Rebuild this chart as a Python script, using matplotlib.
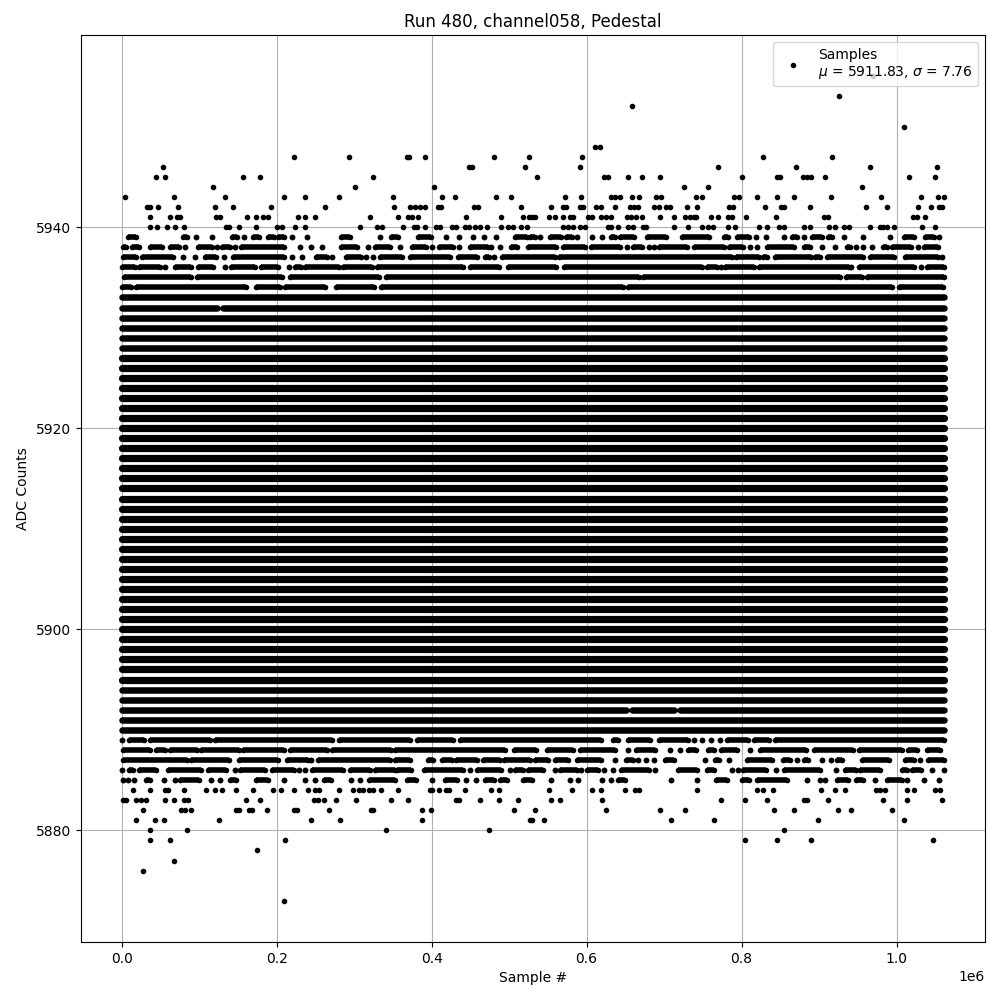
import numpy as np
import matplotlib
matplotlib.use("Agg")
import matplotlib.pyplot as plt

# sample numbers are in thousands
# isolated samples per ADC level
singles = {
    5873: [210],
    5876: [28],
    5877: [68],
    5878: [175],
    5879: [37, 62, 211, 804, 846, 890, 1047],
    5880: [36, 85, 341, 474, 855],
    5881: [19, 43, 55, 126, 245, 282, 388, 527, 530, 545, 709, 765, 899, 1010],
    5882: [27, 77, 82, 89, 148, 152, 164, 168, 188, 223, 226, 268, 322, 325, 387, 399, 506,
           534, 625, 695, 727, 842, 867, 925, 941, 994],
    5883: [2, 6, 19, 25, 32, 56, 68, 81, 86, 160, 179, 248, 254, 261, 277, 302, 348, 369, 431, 435,
           462, 487, 511, 554, 566, 620, 773, 805, 833, 881, 885, 911, 983, 1014, 1059],
    5884: [15, 37, 56, 60, 80, 109, 121, 129, 148, 169, 195, 206, 222, 240, 250, 255, 281, 298,
           306, 312, 319, 325, 335, 356, 398, 401, 410, 418, 423, 443, 476, 487,
           552, 581, 607, 619, 650, 663, 667, 743, 820, 827, 840, 902, 921, 933, 973, 978, 985,
           1013, 1023, 1049, 1056],
    5940: [36, 46, 58, 69, 80, 135, 139, 152, 173, 200, 207, 224, 237, 308, 330, 336, 363, 377, 381,
           391, 406, 411, 426, 431, 443, 448, 456, 463, 471, 489, 498, 505, 515, 523,
           570, 576, 583, 591, 598, 627, 632, 640, 653, 660, 673, 677, 713, 731, 749, 757, 763,
           782, 792, 822, 833, 848, 855, 881, 888, 913, 920, 932, 938, 966, 979, 983, 988, 996,
           1033, 1050],
    5941: [36, 62, 71, 75, 122, 127, 162, 173, 183, 189, 227, 236, 249, 321, 357, 370, 375, 382,
           444, 490, 518, 526, 529, 533, 552, 559, 570, 578, 583, 602, 607, 619, 625, 632,
           652, 657, 664, 671, 695, 713, 727, 733, 738, 741, 761, 769, 782, 787, 806, 845,
           906, 911, 1021, 1026, 1037],
    5942: [33, 37, 47, 73, 120, 144, 193, 262, 352, 372, 379, 385, 391, 408, 412, 455, 460, 515,
           554, 570, 573, 591, 595, 612, 619, 636, 656, 661, 666, 687, 693, 702, 708, 729, 742,
           784, 789, 830, 851, 855, 888, 961, 988, 1027, 1044, 1055, 1058],
    5943: [5, 68, 134, 210, 236, 280, 350, 413, 430, 483, 502, 572, 593, 631, 637, 643, 658, 667,
           690, 696, 741, 749, 790, 796, 820, 846, 868, 915, 980, 1031, 1054, 1061],
    5944: [118, 301, 403, 726, 757, 955],
    5945: [45, 56, 156, 179, 324, 536, 622, 628, 653, 672, 695, 801, 846, 850, 879, 885, 889, 908,
           1016, 1050],
    5946: [54, 448, 452, 520, 592, 769, 870, 966, 1052],
    5947: [222, 293, 368, 371, 392, 481, 526, 594, 827, 917],
    5948: [611, 617],
    5950: [1009],
    5952: [659],
    5953: [926],
    5955: [969],
}

# levels where the samples merge into runs: (first, last)
runs_5885 = [(2, 2), (8, 8), (16, 16), (31, 37), (55, 55), (69, 69), (75, 100), (115, 115), (127, 127),
             (140, 147), (174, 189), (209, 209), (237, 237), (249, 249), (261, 270), (296, 296), (307, 307),
             (319, 353), (368, 380), (400, 400), (417, 433), (444, 444), (457, 457), (469, 480), (488, 497),
             (518, 530), (554, 554), (579, 579), (589, 589), (620, 620), (631, 631), (640, 650), (709, 709),
             (742, 742), (767, 781), (800, 809), (820, 859), (884, 884), (901, 901), (908, 908), (923, 937),
             (947, 956), (972, 972), (988, 1007), (1013, 1013), (1035, 1035), (1055, 1055)]
runs_5886 = [(1, 1), (9, 15), (22, 45), (60, 103), (111, 135), (146, 146), (153, 185), (194, 222), (229, 229),
             (237, 237), (246, 286), (295, 320), (327, 353), (355, 374), (390, 441), (450, 450), (459, 489),
             (501, 501), (508, 518), (525, 544), (559, 559), (566, 587), (593, 593), (601, 615), (623, 623),
             (634, 634), (645, 680), (688, 688), (718, 742), (755, 764), (787, 787), (795, 795), (802, 832),
             (845, 845), (855, 901), (922, 922), (934, 947), (953, 978), (1007, 1013), (1020, 1031),
             (1046, 1046), (1061, 1061)]
runs_5887 = [(2, 85), (89, 139), (152, 202), (214, 240), (244, 244), (253, 346), (353, 372), (395, 402),
             (414, 426), (432, 458), (466, 488), (493, 527), (533, 550), (559, 576), (588, 619), (637, 637),
             (651, 660), (666, 666), (676, 676), (687, 687), (701, 713), (753, 753), (766, 771), (784, 784),
             (807, 839), (854, 862), (871, 871), (881, 886), (904, 904), (915, 915), (923, 929), (955, 990),
             (1011, 1022), (1030, 1030), (1041, 1061)]
runs_5888 = [(2, 36), (44, 56), (63, 97), (103, 151), (157, 209), (217, 265), (271, 347), (353, 495),
             (506, 535), (549, 583), (591, 637), (654, 654), (664, 688), (708, 708), (721, 721), (731, 741),
             (757, 765), (774, 794), (811, 811), (824, 883), (893, 944), (951, 1007), (1015, 1026), (1039, 1056)]
runs_5889 = [(1, 1), (9, 29), (37, 114), (121, 271), (280, 372), (381, 428), (437, 619), (634, 640),
             (653, 682), (694, 731), (738, 738), (749, 749), (761, 761), (772, 772), (781, 808), (816, 835),
             (843, 1061)]
runs_5934 = [(1, 12), (19, 160), (174, 205), (211, 263), (276, 326), (335, 647), (653, 994), (1003, 1060)]
runs_5935 = [(3, 90), (97, 207), (217, 332), (341, 667), (673, 927), (935, 955), (962, 1061)]
runs_5936 = [(1, 17), (22, 50), (56, 56), (69, 90), (99, 118), (133, 133), (141, 172), (180, 202), (216, 216),
             (224, 231), (237, 281), (286, 323), (330, 440), (449, 487), (498, 560), (571, 749), (755, 768),
             (773, 773), (779, 816), (823, 938), (941, 941), (951, 1022), (1031, 1031), (1039, 1061)]
runs_5937 = [(2, 19), (26, 66), (79, 79), (95, 95), (108, 122), (132, 132), (144, 209), (220, 220), (233, 233),
             (251, 265), (271, 271), (290, 309), (315, 315), (324, 324), (334, 362), (372, 424), (434, 459),
             (469, 474), (481, 481), (491, 559), (565, 788), (793, 823), (827, 833), (843, 889), (895, 901),
             (910, 957), (966, 996), (1011, 1054), (1059, 1059)]
runs_5938 = [(2, 6), (13, 23), (36, 52), (62, 74), (82, 82), (98, 116), (123, 123), (129, 140), (146, 146),
             (154, 210), (230, 230), (244, 244), (258, 258), (283, 304), (318, 318), (327, 346), (359, 359),
             (375, 393), (400, 400), (409, 428), (435, 435), (450, 473), (477, 477), (488, 488), (503, 510),
             (525, 561), (569, 598), (606, 643), (652, 652), (660, 671), (681, 681), (687, 687), (693, 729),
             (738, 777), (784, 802), (811, 811), (820, 820), (833, 867), (881, 888), (904, 904), (920, 920),
             (936, 940), (947, 947), (956, 956), (968, 968), (983, 988), (994, 1018), (1027, 1027), (1035, 1053)]
runs_5939 = [(8, 19), (79, 85), (96, 96), (117, 117), (142, 149), (158, 158), (170, 177), (189, 196), (202, 209),
             (220, 220), (239, 239), (283, 295), (333, 333), (347, 357), (382, 399), (418, 418), (435, 435),
             (454, 454), (467, 467), (483, 483), (508, 523), (527, 533), (540, 540), (553, 567), (574, 581),
             (588, 588), (607, 607), (620, 620), (632, 637), (643, 661), (678, 702), (723, 758), (777, 783),
             (794, 809), (818, 818), (832, 832), (855, 855), (865, 871), (880, 880), (891, 904), (912, 917),
             (932, 932), (957, 957), (991, 991), (1009, 1022), (1037, 1048), (1055, 1055)]

runs = {5885: runs_5885, 5886: runs_5886, 5887: runs_5887, 5888: runs_5888, 5889: runs_5889,
        5934: runs_5934, 5935: runs_5935, 5936: runs_5936, 5937: runs_5937, 5938: runs_5938, 5939: runs_5939}

# the levels around the mean are solid over the whole record
core_levels = list(range(5895, 5928))
outer_levels = [5890, 5891, 5893, 5894, 5928, 5929, 5930, 5931, 5933]
full_span = [(0, 1061)]
# the two outer levels that still show a notch
notched = {5892: [(0, 651), (659, 713), (721, 1061)], 5932: [(0, 123), (131, 1061)]}


def plot_solid(ax, level, spans, width):
    xs = []
    for a, b in spans:
        xs += [a * 1000, b * 1000, np.nan]
    ax.plot(xs, [level] * len(xs), "k-", lw=width, solid_capstyle="round")


def plot_runs(ax, level, spans):
    xs = []
    for a, b in spans:
        xs += [a * 1000, b * 1000, np.nan]
    ax.plot(xs, [level] * len(xs), "k.-", lw=4, solid_capstyle="butt")


fig, ax = plt.subplots(figsize=(10, 10), dpi=100)

for level in core_levels:
    plot_solid(ax, level, full_span, 5.2)
for level in outer_levels:
    plot_solid(ax, level, full_span, 4.7)
for level, spans in notched.items():
    plot_solid(ax, level, spans, 4.7)
for level, spans in runs.items():
    plot_runs(ax, level, spans)

first = True
for level, xs in singles.items():
    xs = np.array(xs) * 1000
    ax.plot(xs, [level] * len(xs), "k.", label="Samples\n$\\mu$ = 5911.83, $\\sigma$ = 7.76" if first else None)
    first = False

ax.set_title("Run 480, channel058, Pedestal")
ax.set_xlabel("Sample #")
ax.set_ylabel("ADC Counts")
ax.grid(True)
ax.legend(loc="upper right")
fig.subplots_adjust(left=0.0805, right=0.985, top=0.965, bottom=0.058)
fig.savefig("out.png")
